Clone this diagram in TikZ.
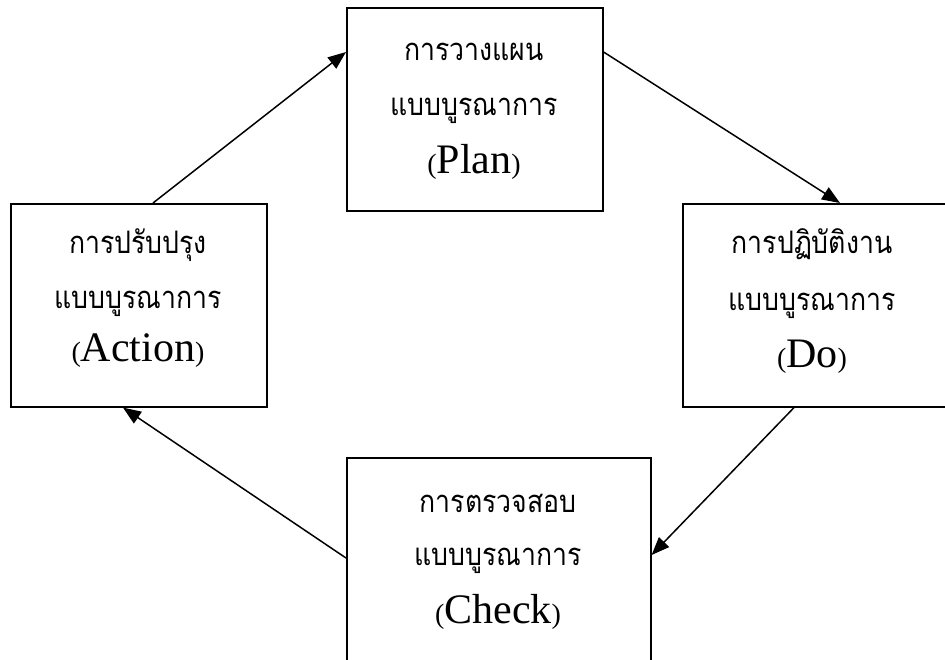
\documentclass[tikz,border=0pt]{standalone}
\usepackage{fontspec}
\setmainfont{Liberation Serif}
\newfontfamily\thaifont[Script=Thai,FakeStretch=0.86]{Loma}
\usetikzlibrary{arrows.meta}
\tikzset{
  stagebox/.style={draw, line width=1.6pt, rectangle, inner sep=0pt, anchor=north west, minimum width=256pt, minimum height=203pt},
  thline/.style={anchor=base, inner sep=0pt, font=\thaifont\fontsize{31}{36}\selectfont},
  enline/.style={anchor=base, inner sep=0pt},
  cyc/.style={line width=1.5pt, -{Triangle[length=18pt,width=14pt]}},
}
\newcommand{\enword}[1]{{\fontsize{28}{30}\selectfont(}{\fontsize{42}{46}\selectfont #1}{\fontsize{28}{30}\selectfont)}}
\begin{document}
\begin{tikzpicture}[x=1pt,y=-1pt]
\useasboundingbox (0,0) rectangle (945,659);
% boxes
\node[stagebox] (plan) at (346,7) {};
\node[stagebox] (act) at (10,203) {};
\node[stagebox, minimum width=265pt] (do) at (682,203) {};
\node[stagebox, minimum width=304pt, minimum height=212pt] (chk) at (346,457) {};
% texts
\node[thline] (p1) at ([xshift=128pt,yshift=-53pt]plan.north west) {การวางแผน};
\node[thline] (p2) at ([xshift=128pt,yshift=-108pt]plan.north west) {แบบบูรณาการ};
\node[enline] (p3) at ([xshift=128pt,yshift=-166pt]plan.north west) {\enword{Plan}};
\node[thline] (a1) at ([xshift=128pt,yshift=-50pt]act.north west) {การปรับปรุง};
\node[thline] (a2) at ([xshift=128pt,yshift=-105pt]act.north west) {แบบบูรณาการ};
\node[enline] (a3) at ([xshift=128pt,yshift=-158pt]act.north west) {\enword{Action}};
\node[thline] (d1) at ([xshift=130pt,yshift=-50pt]do.north west) {การปฏิบัติงาน};
\node[thline] (d2) at ([xshift=130pt,yshift=-107pt]do.north west) {แบบบูรณาการ};
\node[enline] (d3) at ([xshift=130pt,yshift=-164pt]do.north west) {\enword{Do}};
\node[thline] (c1) at ([xshift=152pt,yshift=-55pt]chk.north west) {การตรวจสอบ};
\node[thline] (c2) at ([xshift=152pt,yshift=-108pt]chk.north west) {แบบบูรณาการ};
\node[enline] (c3) at ([xshift=152pt,yshift=-166pt]chk.north west) {\enword{Check}};
% connectors
\draw[cyc] ([xshift=143pt]act.north west) -- ([yshift=-45pt]plan.north west);
\draw[cyc] ([yshift=-45pt]plan.north east) -- ([xshift=158pt]do.north west);
\draw[cyc] ([xshift=112pt]do.south west) -- ([yshift=-98pt]chk.north east);
\draw[cyc] ([yshift=-101pt]chk.north west) -- ([xshift=113pt]act.south west);
\end{tikzpicture}
\end{document}
